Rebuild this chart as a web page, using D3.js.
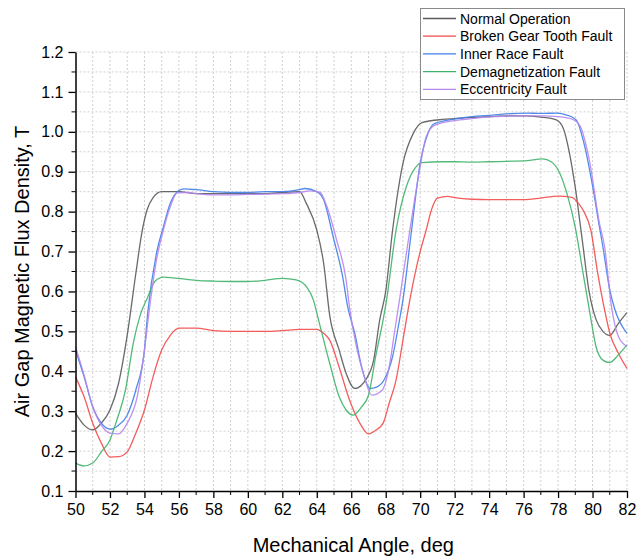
<!DOCTYPE html>
<html><head><meta charset="utf-8">
<script src="https://cdn.jsdelivr.net/npm/d3@7"></script>
<style>body{margin:0;background:#fff}svg{display:block}text{font-family:"Liberation Sans",Arial,sans-serif}</style>
</head><body><svg id="c" width="638" height="558"></svg>
<script>
const seriesNames = ["Normal Operation","Broken Gear Tooth Fault","Inner Race Fault","Demagnetization Fault","Eccentricity Fault"];
const seriesColors = ["#5a5a5a","#f44a4a","#3f7ee8","#3fb36a","#b486ee"];

const normalX = [50,50.5,51,51.5,52,52.5,53,53.5,53.85,54.15,54.5,55,56,57,58,59,60,61,62,63,63.4,64,64.4,64.75,65.3,65.7,66.2,66.9,67.3,67.65,68,68.4,69,69.6,70.1,71.3,72,73,74,75,76,77,77.9,78.3,78.7,79.0,79.4,79.8,80.2,80.6,81.0,81.5,82];
const normalY = [0.295,0.265,0.253,0.27,0.303,0.37,0.49,0.645,0.747,0.804,0.835,0.85,0.85,0.845,0.845,0.845,0.845,0.845,0.848,0.85,0.82,0.754,0.67,0.54,0.453,0.395,0.357,0.383,0.428,0.528,0.6,0.754,0.921,0.996,1.023,1.031,1.033,1.036,1.038,1.04,1.04,1.037,1.03,1.009,0.938,0.86,0.73,0.6,0.53,0.5,0.49,0.52,0.547];

const brokenX = [50,50.5,51,51.5,52,52.5,53,53.5,54,54.5,55,55.5,56,57,58,59,60,61,62,63,64,64.4,64.75,65.3,65.9,66.5,67.0,67.45,67.85,68.2,68.6,69.0,69.4,70.0,70.35,70.65,71.0,71.6,72,73,74,75,76,77,78,78.8,79.2,79.5,79.9,80.3,80.7,81,81.5,82];
const brokenY = [0.386,0.336,0.27,0.22,0.185,0.186,0.198,0.245,0.303,0.386,0.453,0.49,0.508,0.508,0.502,0.5,0.5,0.5,0.502,0.505,0.505,0.495,0.478,0.41,0.328,0.27,0.243,0.253,0.27,0.32,0.378,0.478,0.579,0.7,0.754,0.804,0.834,0.838,0.835,0.831,0.83,0.83,0.83,0.834,0.839,0.836,0.82,0.8,0.754,0.646,0.554,0.496,0.445,0.407];

const innerX = [50,50.5,51,51.5,52,52.5,53,53.5,54,54.2,54.7,55.1,55.5,56,56.3,57,58,59,60,61,62,63,63.3,64,64.4,64.95,65.5,65.8,66.2,66.6,67.1,67.5,67.95,68.4,68.8,69.0,69.5,70.0,70.45,70.85,72.3,73,74.2,75,76.2,77,78,78.5,79.05,79.55,80.0,80.4,80.6,81,81.3,82];
const innerY = [0.453,0.386,0.311,0.27,0.255,0.265,0.29,0.353,0.453,0.55,0.696,0.762,0.821,0.853,0.857,0.855,0.85,0.848,0.848,0.85,0.85,0.855,0.858,0.85,0.83,0.737,0.637,0.56,0.496,0.411,0.357,0.361,0.382,0.437,0.529,0.579,0.754,0.921,0.996,1.021,1.034,1.038,1.042,1.045,1.047,1.046,1.047,1.042,1.03,0.963,0.865,0.762,0.712,0.604,0.554,0.495];

const demagX = [50,50.5,51,51.5,52,52.4,52.9,53.35,53.75,54.2,54.6,55.1,55.9,57,58,59,60,61,62,62.8,63.4,63.8,64.1,64.75,65.3,65.7,66.1,66.6,67.0,67.45,67.85,68.05,68.6,69.2,69.7,70.1,71.3,72,73,74,75,76.2,77.1,77.6,78.1,78.55,79.0,79.45,79.85,80.2,80.6,81.0,81.5,82];
const demagY = [0.17,0.163,0.17,0.198,0.228,0.278,0.353,0.47,0.54,0.587,0.625,0.636,0.633,0.628,0.626,0.625,0.625,0.628,0.633,0.629,0.612,0.579,0.529,0.42,0.336,0.303,0.29,0.311,0.34,0.445,0.529,0.579,0.754,0.863,0.909,0.923,0.925,0.925,0.924,0.925,0.926,0.928,0.932,0.925,0.896,0.84,0.76,0.646,0.545,0.462,0.428,0.422,0.441,0.466];

const eccX = [50,50.5,51,51.5,52,52.5,53,53.6,54.0,54.3,54.7,55.1,55.5,55.9,56.5,57,58,59,60,61,62,63,63.6,64.2,64.55,65.15,65.7,65.9,66.3,66.7,67.2,67.8,68.2,68.5,68.8,69.4,69.9,70.35,70.85,72.3,73,74.2,75,76,77.1,78,78.85,79.25,79.85,80.4,80.7,81.1,81.5,82];
const eccY = [0.462,0.39,0.311,0.265,0.245,0.243,0.27,0.34,0.453,0.56,0.679,0.754,0.812,0.847,0.848,0.845,0.842,0.842,0.843,0.844,0.845,0.848,0.852,0.848,0.817,0.729,0.629,0.56,0.462,0.395,0.34,0.353,0.411,0.495,0.579,0.754,0.888,0.988,1.017,1.03,1.033,1.038,1.039,1.04,1.04,1.038,1.031,1.017,0.921,0.771,0.712,0.562,0.487,0.462];

const xTicks = [50,52,54,56,58,60,62,64,66,68,70,72,74,76,78,80,82];
const yTicks = [0.1,0.2,0.3,0.4,0.5,0.6,0.7,0.8,0.9,1.0,1.1,1.2];
const xTitle = "Mechanical Angle, deg";
const yTitle = "Air Gap Magnetic Flux Density, T";

const seriesX = [normalX, brokenX, innerX, demagX, eccX];
const seriesY = [normalY, brokenY, innerY, demagY, eccY];

const svg = d3.select("#c");
const L = 75.5, R = 627, T = 52, B = 491;
const x = d3.scaleLinear().domain([50,82]).range([L,R]);
const y = d3.scaleLinear().domain([0.1,1.2]).range([B,T]);

// grid
const minorX = d3.range(50,83,1);
const minorY = d3.range(0,23).map(i => +(0.1 + i*0.05).toFixed(2));
const grid = svg.append("g");
grid.selectAll("line.gx").data(minorX.filter(v=>v>50)).join("line")
  .attr("x1",d=>x(d)).attr("x2",d=>x(d)).attr("y1",T).attr("y2",B)
  .attr("stroke","#cfcfcf").attr("stroke-width",1).attr("stroke-dasharray","2,2");
grid.selectAll("line.gy").data(minorY.filter(v=>v>0.1)).join("line")
  .attr("y1",d=>y(d)).attr("y2",d=>y(d)).attr("x1",L).attr("x2",R)
  .attr("stroke","#cfcfcf").attr("stroke-width",1).attr("stroke-dasharray","2,2");

// lines
const line = d3.line().x(d=>x(d[0])).y(d=>y(d[1])).curve(d3.curveMonotoneX);
seriesX.forEach((xs,i) => {
  const pts = xs.map((v,j)=>[v, seriesY[i][j]]);
  svg.append("path").datum(pts).attr("d",line).attr("fill","none")
    .attr("stroke",seriesColors[i]).attr("stroke-width",1.3).attr("stroke-opacity",0.9);
});

// axes
const xAxis = svg.append("g").attr("transform",`translate(0,${B})`)
  .call(d3.axisBottom(x).tickValues(xTicks).tickSize(7).tickSizeOuter(0).tickPadding(6).tickFormat(d3.format("d")));
xAxis.append("g").selectAll("line").data(minorX.filter(v=>v%2!==0)).join("line")
  .attr("x1",d=>x(d)).attr("x2",d=>x(d)).attr("y1",0).attr("y2",4).attr("stroke","#000");
const yAxis = svg.append("g").attr("transform",`translate(${L},0)`)
  .call(d3.axisLeft(y).tickValues(yTicks).tickSize(7).tickSizeOuter(0).tickPadding(5).tickFormat(d3.format(".1f")));
yAxis.append("g").selectAll("line").data(yTicks.slice(0,-1).map(v=>v+0.05)).join("line")
  .attr("y1",d=>y(d)).attr("y2",d=>y(d)).attr("x1",0).attr("x2",-4).attr("stroke","#000");
[xAxis,yAxis].forEach(a=>{
  a.select(".domain").attr("stroke","#000").attr("stroke-width",1.5);
  a.selectAll(".tick line").attr("stroke","#000").attr("stroke-width",1.3);
  a.selectAll("text").attr("font-size",16).attr("fill","#000").attr("font-family","Liberation Sans, Arial, sans-serif");
});

svg.append("text").attr("x",(L+R)/2 + 2).attr("y",552).attr("text-anchor","middle")
  .attr("font-size",20).text(xTitle);
svg.append("text").attr("transform",`translate(29,${(T+B)/2}) rotate(-90)`).attr("text-anchor","middle")
  .attr("font-size",20).text(yTitle);

// legend
const lg = svg.append("g");
lg.append("rect").attr("x",420.5).attr("y",8.5).attr("width",204).attr("height",91)
  .attr("fill","#fff").attr("stroke","#8a8a8a").attr("stroke-width",1);
seriesNames.forEach((n,i)=>{
  const cy = 18.5 + i*17.7;
  lg.append("line").attr("x1",423).attr("x2",456).attr("y1",cy).attr("y2",cy)
    .attr("stroke",seriesColors[i]).attr("stroke-width",1.3);
  lg.append("text").attr("x",460).attr("y",cy+5).attr("font-size",14).text(n);
});
</script></body></html>
